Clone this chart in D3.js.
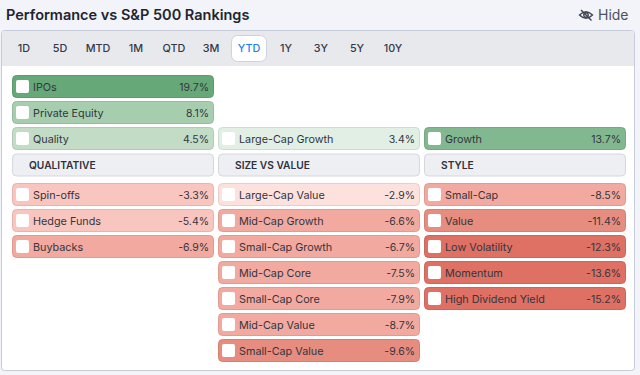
<!DOCTYPE html>
<html lang="en">
<head>
  <title>Performance vs S&amp;P 500 Rankings</title>
  <script src="https://cdn.jsdelivr.net/npm/d3@7"></script>
  <style>
    html, body { margin: 0; padding: 0; background: #f2f4f9; overflow: hidden; }
    text { font-family: Inter, "Noto Sans", sans-serif; }
  </style>
</head>
<body>
  <script>
    let width = 640, height = 375;

    // Periods across the top, the active one is YTD
    let periods = ["1D", "5D", "MTD", "1M", "QTD", "3M", "YTD", "1Y", "3Y", "5Y", "10Y"];
    let activePeriod = "YTD";

    let groups = ["QUALITATIVE", "SIZE VS VALUE", "STYLE"];

    // Above the header row: outperformers, listed top down
    let qualitativeUp = ["IPOs", "Private Equity", "Quality"];
    let qualitativeUpValues = [19.7, 8.1, 4.5];
    let sizeUp = ["Large-Cap Growth"];
    let sizeUpValues = [3.4];
    let styleUp = ["Growth"];
    let styleUpValues = [13.7];

    // Below the header row: underperformers
    let qualitativeDown = ["Spin-offs", "Hedge Funds", "Buybacks"];
    let qualitativeDownValues = [-3.3, -5.4, -6.9];
    let sizeDown = ["Large-Cap Value", "Mid-Cap Growth", "Small-Cap Growth", "Mid-Cap Core", "Small-Cap Core", "Mid-Cap Value", "Small-Cap Value"];
    let sizeDownValues = [-2.9, -6.6, -6.7, -7.5, -7.9, -8.7, -9.6];
    let styleDown = ["Small-Cap", "Value", "Low Volatility", "Momentum", "High Dividend Yield"];
    let styleDownValues = [-8.5, -11.4, -12.3, -13.6, -15.2];

    let svg = d3.select("body").append("svg")
      .attr("width", width)
      .attr("height", height)
      .style("display", "block");

    // Title and hide button
    svg.append("text").text("Performance vs S&P 500 Rankings")
      .attr("x", 6).attr("y", 20)
      .attr("font-size", 14.5).attr("font-weight", 600).attr("fill", "#1f2430");
    svg.append("text").text("Hide")
      .attr("x", 598).attr("y", 20)
      .attr("font-size", 14).attr("fill", "#4b5160")
      .attr("font-family", "Liberation Sans");
    let eye = svg.append("g").attr("transform", "translate(586, 15)")
      .attr("fill", "none").attr("stroke", "#3f4552").attr("stroke-width", 1.4);
    eye.append("path").attr("d", "M-6.5,0 Q0,-6.5 6.5,0 Q0,6.5 -6.5,0Z");
    eye.append("circle").attr("r", 2.2);
    eye.append("path").attr("d", "M-5,-5 L5.5,5.5");

    // Main card
    svg.append("rect")
      .attr("x", 1.5).attr("y", 30.5).attr("width", 633).attr("height", 340)
      .attr("rx", 3).attr("fill", "#fff").attr("stroke", "#c5cbd8");
    svg.append("path")
      .attr("d", "M2,66 V33 Q2,31 4,31 H632 Q634,31 634,33 V66 Z")
      .attr("fill", "#e8e9ec");

    // Tabs
    let tabCentre = [24, 60, 98, 136, 174, 211, 249, 286, 321, 357, 393];
    let tabs = svg.append("g");
    tabs.append("rect")
      .attr("x", 231.5).attr("y", 35.5).attr("width", 35).attr("height", 26)
      .attr("rx", 6).attr("fill", "#fff").attr("stroke", "#ced2dc");
    tabs.selectAll("text").data(periods).join("text")
      .text(d => d)
      .attr("x", (d, i) => tabCentre[i])
      .attr("y", 52)
      .attr("text-anchor", "middle")
      .attr("font-size", 10.8)
      .attr("font-weight", 500)
      .attr("fill", d => d === activePeriod ? "#1e7ff0" : "#33394a");

    // Scales for the grid of tiles
    let colScale = d3.scaleBand().domain(groups)
      .range([12, 626]).paddingInner(4 / 206).paddingOuter(0);
    let rowScale = d3.scaleBand().domain(d3.range(11))
      .range([75, 358]).paddingInner(3 / 26).paddingOuter(0);
    // Header sits on slot 3, the rows under it are pushed a little further down
    let belowShift = 4;

    let colour = d3.scaleThreshold()
      .domain([-12, -9, -6.5, -5.5, -3, 0, 4, 6, 10, 16])
      .range(["#de7064", "#e68d80", "#f2a99f", "#f9c5bf", "#f9c5bf", "#fde1dd", "#e1efe4", "#c2dcc6", "#a6cdae", "#82b88f", "#66a877"]);

    let tile = (name, value, group, slot, shift) =>
      ({ name, value, group, slot, shift });

    let tiles = [];
    // the upper tiles stack upward from the header, so short columns sit at the bottom
    [[qualitativeUp, qualitativeUpValues, groups[0]],
     [sizeUp, sizeUpValues, groups[1]],
     [styleUp, styleUpValues, groups[2]]].forEach(([names, vals, g]) => {
      names.forEach((n, i) => tiles.push(tile(n, vals[i], g, 3 - names.length + i, 0)));
    });
    [[qualitativeDown, qualitativeDownValues, groups[0]],
     [sizeDown, sizeDownValues, groups[1]],
     [styleDown, styleDownValues, groups[2]]].forEach(([names, vals, g]) => {
      names.forEach((n, i) => tiles.push(tile(n, vals[i], g, 4 + i, belowShift)));
    });

    let tileG = svg.append("g").selectAll("g").data(tiles).join("g")
      .attr("transform", d => `translate(${colScale(d.group)}, ${rowScale(d.slot) + d.shift})`);

    tileG.append("rect")
      .attr("x", 0.5).attr("y", 0.5)
      .attr("width", colScale.bandwidth() - 1)
      .attr("height", rowScale.bandwidth() - 1)
      .attr("rx", 4)
      .attr("fill", d => colour(d.value))
      .attr("stroke", d => d3.color(colour(d.value)).darker(0.25));
    tileG.append("rect")
      .attr("x", 4).attr("y", 5)
      .attr("width", 13).attr("height", 13)
      .attr("rx", 2).attr("fill", "#fff");
    tileG.append("text").text(d => d.name)
      .attr("x", 21).attr("y", 15.5)
      .attr("font-size", 10.8).attr("fill", "#33363f");
    tileG.append("text").text(d => d.value.toFixed(1) + "%")
      .attr("x", colScale.bandwidth() - 5).attr("y", 15.5)
      .attr("text-anchor", "end")
      .attr("font-size", 10.5).attr("fill", "#33363f");

    // Group header row
    let headerG = svg.append("g").selectAll("g").data(groups).join("g")
      .attr("transform", d => `translate(${colScale(d)}, ${rowScale(3) + 0.5})`);
    headerG.append("rect")
      .attr("x", 0.5).attr("y", 0.5)
      .attr("width", colScale.bandwidth() - 1)
      .attr("height", rowScale.bandwidth() - 1)
      .attr("rx", 4)
      .attr("fill", "#eeeff3").attr("stroke", "#d4d7de");
    headerG.append("text").text(d => d)
      .attr("x", 17).attr("y", 15.5)
      .attr("font-size", 10.2).attr("font-weight", 600).attr("fill", "#2d3140");
  </script>
</body>
</html>
